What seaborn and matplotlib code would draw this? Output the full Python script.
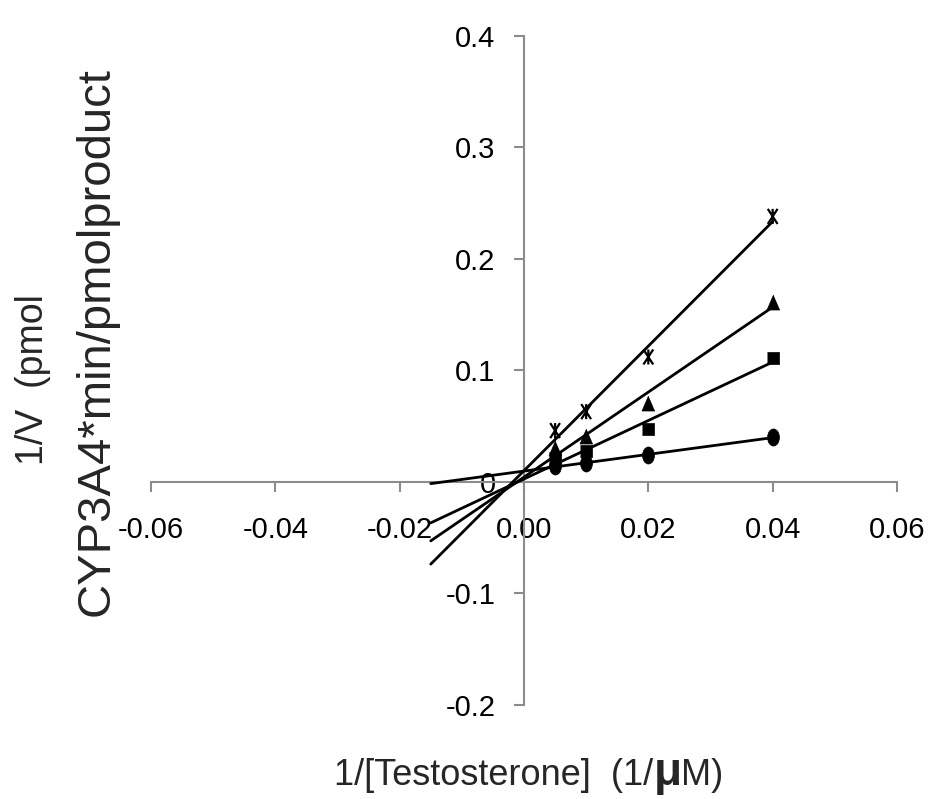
import numpy as np
import pandas as pd
import matplotlib
matplotlib.use("Agg")
import matplotlib.pyplot as plt
from matplotlib.path import Path
from matplotlib.transforms import Affine2D
import seaborn as sns

# Lineweaver-Burk data: 1/[S] (1/uM) and 1/V for four inhibitor levels
inv_substrate = [0.005, 0.01, 0.02, 0.04]
inv_rate_circle = [0.014, 0.017, 0.024, 0.040]
inv_rate_square = [0.021, 0.028, 0.047, 0.111]
inv_rate_triangle = [0.030, 0.041, 0.071, 0.161]
inv_rate_star = [0.046, 0.063, 0.112, 0.238]

x_ticks = [-0.06, -0.04, -0.02, 0.0, 0.02, 0.04, 0.06]
x_tick_labels = ["-0.06", "-0.04", "-0.02", "0.00", "0.02", "0.04", "0.06"]
y_ticks = [-0.2, -0.1, 0.0, 0.1, 0.2, 0.3, 0.4]
y_tick_labels = ["-0.2", "-0.1", "0", "0.1", "0.2", "0.3", "0.4"]

# fitted lines are extended backwards to this 1/[S]
trend_start = -0.015

sns.set_theme(style="white")
plt.rcParams["font.family"] = ["Liberation Sans", "DejaVu Sans"]
plt.rcParams["axes.unicode_minus"] = False

# marker shapes (slightly taller than wide)
ellipse = Path.unit_circle().transformed(Affine2D().scale(0.7, 1.0))
rect = [(-0.45, -0.5), (0.45, -0.5), (0.45, 0.5), (-0.45, 0.5)]
tri = [(0.0, 0.5), (-0.43, -0.5), (0.43, -0.5)]
star = Path([(0, -1), (0, 1), (-0.65, -1), (0.65, 1), (-0.65, 1), (0.65, -1)],
            [Path.MOVETO, Path.LINETO] * 3)

series = [
    ("circle", inv_rate_circle, ellipse, 150),
    ("square", inv_rate_square, rect, 80),
    ("triangle", inv_rate_triangle, tri, 117),
    ("star", inv_rate_star, star, 117),
]

fig = plt.figure(figsize=(9.32, 7.99), dpi=100)
ax = fig.add_axes([151 / 932, 1 - 705 / 799, (897 - 151) / 932, (705 - 35.7) / 799])

for name, yvals, mk, size in series:
    df = pd.DataFrame({"x": inv_substrate, "y": yvals})
    slope, intercept = np.polyfit(df["x"], df["y"], 1)
    xs = np.array([trend_start, max(inv_substrate)])
    line_df = pd.DataFrame({"x": xs, "y": slope * xs + intercept})
    sns.lineplot(data=line_df, x="x", y="y", color="black", linewidth=2.0,
                 errorbar=None, ax=ax, zorder=3)
    if name == "star":
        sns.scatterplot(data=df, x="x", y="y", marker=mk, s=size, color="black",
                        facecolor="none", edgecolor="black", linewidth=1.6,
                        ax=ax, zorder=4)
    else:
        sns.scatterplot(data=df, x="x", y="y", marker=mk, s=size, color="black",
                        edgecolor="black", linewidth=0.5, ax=ax, zorder=4)

ax.set_xlim(-0.06, 0.06)
ax.set_ylim(-0.2, 0.4)
ax.set_xlabel("")
ax.set_ylabel("")

axis_grey = "#8c8c8c"
for side in ["top", "right"]:
    ax.spines[side].set_visible(False)
for side in ["left", "bottom"]:
    ax.spines[side].set_position(("data", 0))
    ax.spines[side].set_color(axis_grey)
    ax.spines[side].set_linewidth(1.5)

ax.set_xticks(x_ticks)
ax.set_xticklabels(x_tick_labels)
ax.set_yticks(y_ticks)
ax.set_yticklabels(y_tick_labels)
ax.tick_params(axis="both", direction="out", length=7.5, width=1.5,
               color=axis_grey, labelsize=21, labelcolor="black")
ax.tick_params(axis="x", pad=17, bottom=True)
ax.tick_params(axis="y", pad=13, left=True)
for lab in ax.get_xticklabels() + ax.get_yticklabels():
    lab.set_zorder(1)

# y-axis title on two lines
fig.text(33 / 932, 1 - 380 / 799, "1/V  (pmol", rotation=90, ha="center",
         va="center", fontsize=27)
fig.text(97 / 932, 1 - 342 / 799, "CYP3A4*min/pmolproduct", rotation=90,
         ha="center", va="center", fontsize=34)

# x-axis title, with an enlarged bold micro sign, centred as one line
renderer = fig.canvas.get_renderer()
base_y = 1 - 785 / 799
W = fig.bbox.width
parts = [("1/[Testosterone]  (1/", 26, "normal"),
         ("\u03bc", 33, "bold"),
         ("M)", 26, "normal")]
texts = []
x_cursor = 0.0
for s, fs, fw in parts:
    t = fig.text(x_cursor / W, base_y, s, ha="left", va="baseline",
                 fontsize=fs, fontweight=fw)
    bb = t.get_window_extent(renderer)
    x_cursor = bb.x1
    texts.append(t)
total = x_cursor
start = 529 - total / 2
for t in texts:
    px, py = t.get_position()
    t.set_position((px + start / W, py))

fig.savefig("out.png", dpi=100)
